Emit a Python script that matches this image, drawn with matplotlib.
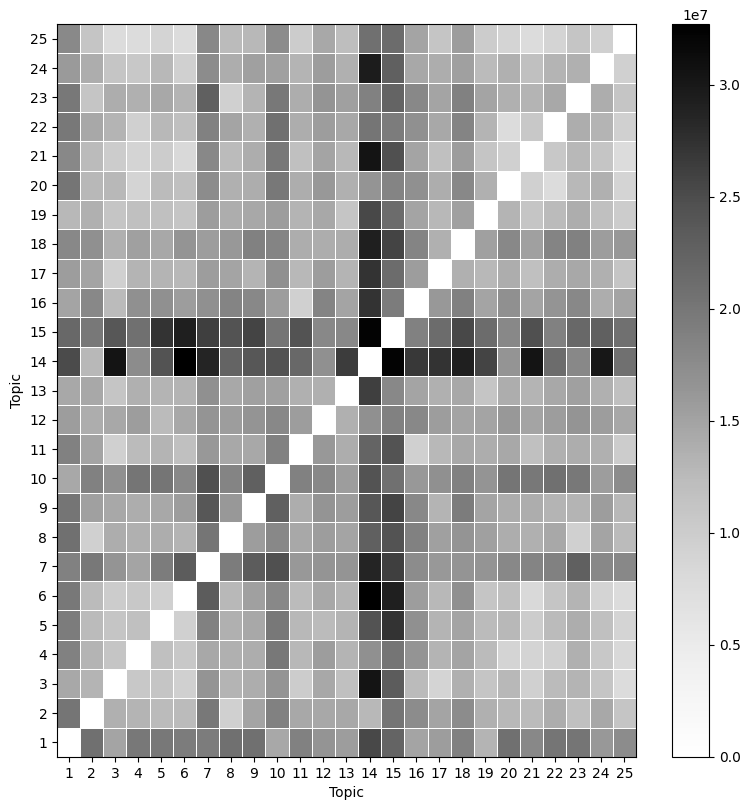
import numpy as np
import matplotlib
matplotlib.use("Agg")
import matplotlib.pyplot as plt

topics = list(range(1, 26))

# distance values in millions (row = topic on y axis, starting at topic 1)
r01 = [0, 20.8, 14.9, 19.9, 19.9, 19.4, 19.4, 20.8, 20.8, 14.5, 18.9, 16.6, 15.7, 25.4, 22.3, 14.9, 15.7, 18.9, 13.2, 20.8, 18.0, 20.3, 20.3, 16.1, 17.5]
r02 = [20.3, 0, 13.6, 13.2, 12.4, 12.4, 19.9, 9.5, 14.9, 18.9, 14.5, 14.5, 14.5, 12.8, 20.3, 17.5, 14.9, 17.5, 13.6, 12.8, 12.4, 14.0, 11.8, 14.5, 11.2]
r03 = [14.5, 13.2, 0, 10.7, 11.2, 9.5, 16.6, 13.2, 14.0, 16.6, 10.1, 14.5, 11.8, 30.5, 23.3, 12.4, 8.9, 13.6, 11.2, 12.8, 9.5, 12.4, 13.2, 11.2, 7.6]
r04 = [18.9, 13.2, 11.2, 0, 11.8, 10.7, 14.5, 13.6, 14.0, 19.9, 12.8, 15.7, 13.2, 17.0, 20.3, 16.6, 13.2, 14.9, 12.4, 8.9, 8.9, 9.5, 13.6, 10.7, 8.3]
r05 = [19.4, 12.4, 11.2, 11.8, 0, 9.5, 18.9, 13.6, 14.5, 19.9, 12.8, 12.4, 13.2, 24.3, 27.3, 17.0, 13.2, 14.9, 12.4, 12.8, 10.1, 12.4, 14.0, 11.8, 8.9]
r06 = [19.9, 12.4, 10.1, 10.7, 9.5, 0, 23.3, 12.8, 15.3, 18.0, 12.4, 14.5, 13.2, 32.7, 29.2, 15.7, 12.8, 17.0, 11.2, 11.8, 8.3, 11.2, 13.2, 8.9, 7.6]
r07 = [18.9, 19.9, 16.6, 14.9, 19.4, 23.3, 0, 19.4, 23.3, 24.7, 16.1, 16.6, 16.6, 28.7, 26.2, 17.5, 16.1, 16.6, 16.6, 18.0, 18.5, 18.9, 22.8, 18.0, 18.0]
r08 = [20.8, 9.5, 14.0, 13.6, 14.0, 13.2, 20.3, 0, 15.7, 18.0, 14.5, 15.7, 14.9, 22.8, 24.3, 18.9, 15.3, 16.6, 15.3, 14.0, 13.6, 14.5, 9.5, 14.9, 12.4]
r09 = [20.3, 15.3, 14.5, 14.0, 14.5, 15.7, 23.8, 16.1, 0, 22.8, 14.0, 16.6, 15.7, 23.8, 25.8, 18.0, 13.2, 19.4, 14.9, 14.0, 14.0, 13.2, 13.2, 15.7, 12.8]
r10 = [14.5, 18.9, 17.0, 20.3, 20.3, 18.0, 24.7, 18.5, 22.8, 0, 18.9, 18.0, 15.7, 24.3, 20.8, 16.1, 17.0, 18.9, 16.6, 20.3, 19.9, 20.8, 19.9, 15.7, 17.5]
r11 = [18.9, 14.9, 9.5, 12.4, 13.2, 11.8, 16.1, 14.5, 14.5, 18.9, 0, 16.1, 14.0, 22.3, 24.3, 9.5, 12.8, 14.5, 14.0, 14.5, 11.8, 13.6, 14.0, 13.6, 10.1]
r12 = [15.7, 14.0, 14.5, 15.7, 12.4, 14.5, 16.6, 15.7, 16.6, 18.0, 15.7, 0, 13.6, 17.0, 18.9, 18.0, 15.7, 14.9, 14.9, 16.1, 14.9, 15.7, 16.6, 15.7, 14.5]
r13 = [14.5, 14.5, 11.2, 13.6, 13.2, 13.2, 17.0, 14.5, 15.3, 15.3, 13.6, 13.6, 0, 26.2, 18.0, 14.9, 13.6, 14.5, 11.2, 14.0, 13.2, 14.5, 15.3, 13.6, 11.8]
r14 = [25.1, 12.8, 30.5, 17.5, 24.3, 32.7, 28.7, 22.3, 23.8, 24.3, 21.8, 17.0, 26.5, 0, 32.3, 26.9, 27.3, 29.2, 25.8, 16.6, 30.5, 21.3, 18.0, 30.1, 20.8]
r15 = [21.8, 19.9, 23.8, 20.8, 27.3, 29.2, 26.2, 24.3, 25.8, 20.3, 24.3, 18.0, 18.0, 32.3, 0, 18.9, 21.3, 25.4, 21.3, 18.0, 24.7, 18.9, 21.8, 22.8, 20.8]
r16 = [14.9, 18.0, 12.4, 17.0, 17.0, 15.7, 17.0, 18.5, 18.0, 15.7, 9.5, 18.5, 14.9, 27.3, 19.4, 0, 16.1, 18.9, 14.9, 17.0, 14.9, 16.6, 18.0, 14.0, 14.9]
r17 = [15.7, 14.9, 9.5, 13.2, 13.2, 12.8, 15.7, 14.9, 13.2, 17.0, 12.8, 15.7, 13.2, 27.3, 21.3, 15.7, 0, 13.6, 12.8, 14.0, 11.8, 14.0, 14.5, 13.6, 11.2]
r18 = [18.0, 17.0, 13.6, 15.3, 14.5, 16.6, 15.7, 16.1, 18.9, 18.5, 14.0, 14.0, 14.0, 29.2, 25.8, 18.5, 13.6, 0, 15.3, 18.0, 15.3, 18.5, 18.9, 15.7, 16.1]
r19 = [12.8, 13.6, 11.2, 11.8, 11.8, 11.2, 15.7, 14.0, 14.5, 15.7, 13.2, 14.5, 11.2, 25.4, 21.3, 14.9, 12.8, 15.3, 0, 13.2, 11.2, 12.4, 14.0, 11.8, 10.1]
r20 = [20.3, 12.8, 12.8, 8.9, 12.4, 11.8, 17.5, 13.6, 14.0, 19.9, 14.0, 16.1, 13.6, 16.6, 18.5, 17.0, 14.0, 18.0, 13.6, 0, 9.5, 7.6, 12.8, 13.6, 8.9]
r21 = [18.0, 12.4, 10.1, 8.9, 10.1, 8.3, 18.0, 12.4, 14.0, 19.9, 11.8, 14.9, 12.8, 30.5, 24.7, 14.9, 11.8, 15.7, 11.2, 9.5, 0, 10.7, 12.8, 11.2, 7.6]
r22 = [19.9, 14.5, 13.2, 9.5, 12.8, 11.8, 18.9, 14.9, 13.6, 20.8, 14.0, 15.7, 14.5, 20.3, 19.4, 17.0, 14.5, 18.5, 13.2, 7.6, 10.7, 0, 14.0, 13.2, 9.5]
r23 = [19.9, 11.2, 14.0, 13.6, 14.5, 13.2, 22.8, 9.5, 13.2, 19.9, 14.0, 16.6, 15.3, 18.9, 22.3, 18.0, 14.9, 18.9, 14.9, 13.6, 13.2, 14.5, 0, 14.0, 11.2]
r24 = [15.9, 14.0, 11.2, 10.7, 12.8, 9.5, 17.5, 14.0, 15.3, 15.3, 13.2, 15.7, 13.6, 29.6, 22.8, 14.5, 14.0, 15.3, 12.4, 13.6, 11.8, 13.2, 13.6, 0, 9.5]
r25 = [17.8, 11.0, 7.6, 7.6, 8.9, 7.6, 18.0, 12.4, 12.8, 17.5, 10.1, 14.5, 12.1, 20.8, 21.3, 14.9, 11.2, 15.7, 10.1, 8.9, 7.6, 8.9, 11.2, 9.5, 0]

rows = [r01, r02, r03, r04, r05, r06, r07, r08, r09, r10, r11, r12, r13,
        r14, r15, r16, r17, r18, r19, r20, r21, r22, r23, r24, r25]
M = np.array(rows) * 1e6

fig = plt.figure(figsize=(7.49, 8.09), dpi=100)
ax = fig.add_axes([0.0761, 0.0643, 0.7730, 0.9060])
cax = fig.add_axes([0.8972, 0.0643, 0.0494, 0.9060])

n = len(topics)
edges = np.arange(n + 1) + 0.5
mesh = ax.pcolormesh(edges, edges, M, cmap="Greys", vmin=0, vmax=M.max(),
                     edgecolors="white", linewidth=0.7)
ax.set_xlim(0.5, n + 0.5)
ax.set_ylim(0.5, n + 0.5)
ax.set_xticks(topics)
ax.set_yticks(topics)
ax.set_xticklabels([str(t) for t in topics])
ax.set_yticklabels([str(t) for t in topics])
ax.set_xlabel("Topic")
ax.set_ylabel("Topic")

cb = fig.colorbar(mesh, cax=cax)
cb.outline.set_linewidth(0.8)

fig.savefig("out.png", dpi=100)
